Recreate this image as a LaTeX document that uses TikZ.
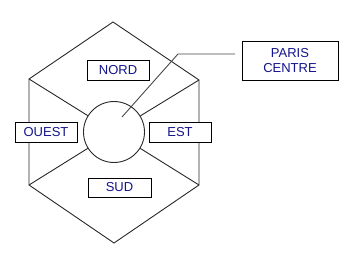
\documentclass[tikz,border=0pt]{standalone}
\usepackage{fontspec}
\setmainfont{Liberation Sans}
\usetikzlibrary{positioning}
\definecolor{ZoneBlue}{RGB}{20,20,140}
\definecolor{EdgeGray}{RGB}{40,40,40}
\definecolor{LeadGray}{RGB}{70,70,70}
\tikzset{
  rim/.style={draw=EdgeGray,line width=0.9pt},
  zone/.style={draw=black,fill=white,line width=0.9pt,inner sep=0pt,
    minimum width=62pt,minimum height=20pt,text=ZoneBlue,font=\fontsize{13}{15}\selectfont},
  hub/.style={circle,draw=EdgeGray,line width=0.9pt,minimum size=61pt,inner sep=0pt},
}

\begin{document}
\begin{tikzpicture}[x=1pt,y=-1pt]
\useasboundingbox (0,0) rectangle (355,264);
\coordinate (hn) at (113,22);
\coordinate (hne) at (199,80);
\coordinate (hse) at (199,185);
\coordinate (hs) at (114,243);
\coordinate (hsw) at (29,185);
\coordinate (hnw) at (29,79);
\node[hub] (centre) at (114,132) {};
\draw[rim] (hn)--(hne)--(hse)--(hs)--(hsw)--(hnw)--cycle;
\draw[rim] (hnw)--(centre);
\draw[rim] (hne)--(centre);
\draw[rim] (hsw)--(centre);
\draw[rim] (hse)--(centre);
% leader to the label box
\coordinate (ltip) at (122,117);
\coordinate (lbend) at (178,54);
\coordinate (lend) at (235,54);
\draw[draw=LeadGray,line width=0.9pt] (ltip)--(lbend)--(lend);
\node[zone] (nord) at (118,70) {NORD};
\node[zone] (ouest) at (46,132) {OUEST};
\node[zone] (est) at (180,132) {EST};
\node[zone,minimum width=63pt,minimum height=19pt] (sud) at (119.5,187.5) {SUD};
\node[zone,minimum width=96pt,minimum height=39pt,align=center] (paris) at (290,60.5) {PARIS\\CENTRE};
\end{tikzpicture}
\end{document}
